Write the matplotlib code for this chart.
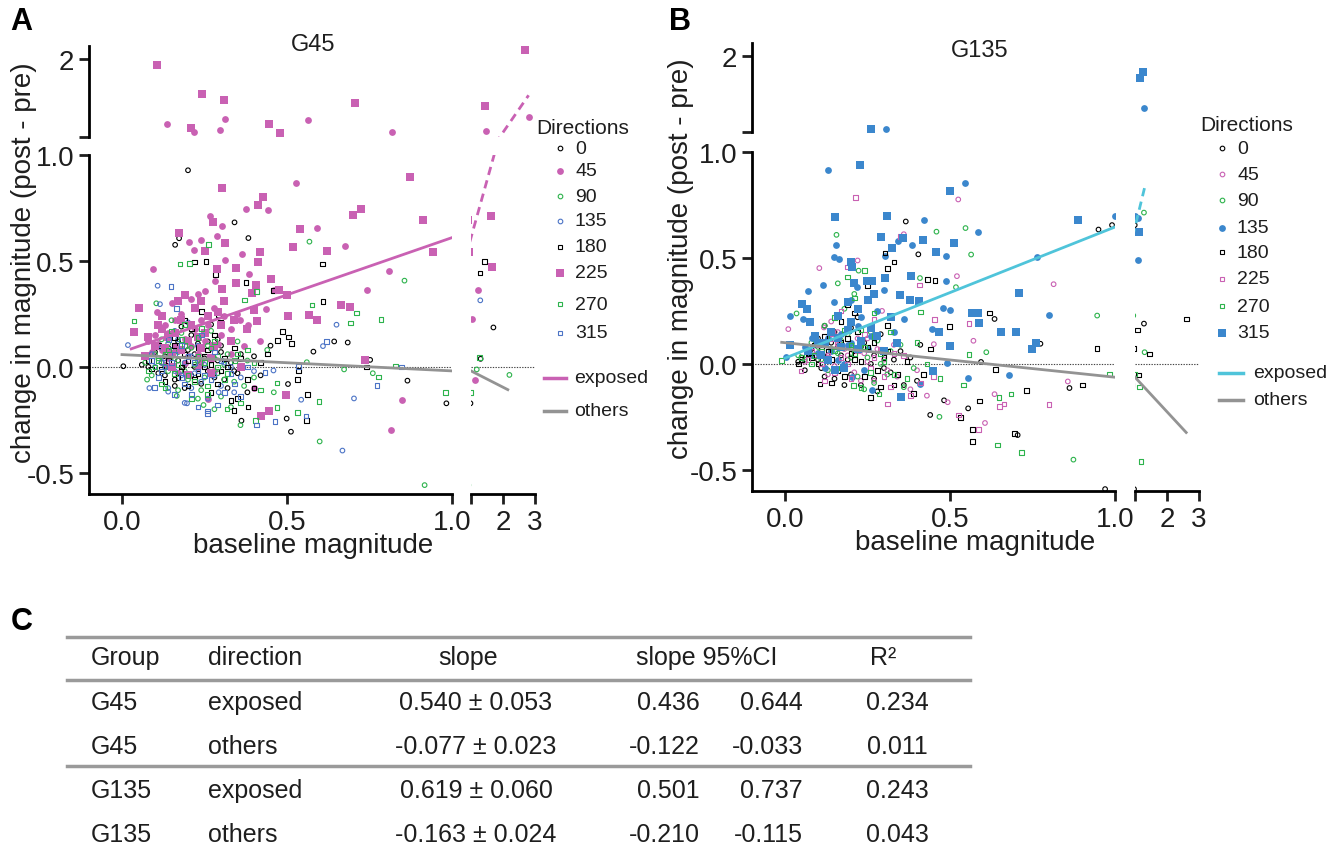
import numpy as np
import matplotlib.pyplot as plt
from matplotlib.lines import Line2D

plt.rcParams['font.family'] = ['Liberation Sans', 'DejaVu Sans']

directions = ['0', '45', '90', '135', '180', '225', '270', '315']

# ---- G45 : (baseline magnitude, change in magnitude) per direction ----
g45_d0 = [(0.20, 0.928), (0.341, 0.682), (0.383, 0.608), (0.173, 0.607), (0.161, 0.576), (0.58, 0.072),
          (0.643, 0.12), (0.684, 0.115), (0.865, -0.065), (0.983, -0.172), (0.512, -0.306), (0.362, -0.254),
          (0.499, -0.244), (0.004, 0.003), (0.752, 0.033), (1.70, 0.186), (1.30, 0.038), (0.503, -0.081),
          (0.12, 0.02), (0.15, 0.05), (0.18, -0.02), (0.2, 0.08), (0.22, 0.0), (0.25, 0.04), (0.28, -0.05),
          (0.3, 0.1), (0.17, 0.12), (0.13, -0.04), (0.24, -0.08), (0.33, 0.02), (0.36, 0.06), (0.1, 0.07),
          (0.21, 0.15), (0.27, 0.2), (0.19, -0.1), (0.32, -0.1), (0.4, 0.05), (0.08, 0.0), (0.23, 0.11),
          (0.16, -0.06), (0.29, 0.13), (0.35, -0.03), (0.14, 0.09),
          (0.06, 0.01), (0.11, -0.03), (0.14, 0.0), (0.17, 0.03), (0.19, 0.01), (0.21, -0.04), (0.24, 0.02),
          (0.26, -0.02), (0.29, 0.03), (0.31, -0.06), (0.34, -0.02), (0.38, -0.12), (0.13, 0.05),
          (0.16, -0.09), (0.22, 0.06), (0.26, 0.12), (0.18, 0.19), (0.3, 0.07), (0.42, -0.04), (0.45, 0.1)]
g45_d45 = [(0.093, 0.462), (0.304, 0.667), (0.526, 0.866), (0.375, 0.747), (0.443, 0.739), (0.59, 0.656),
           (0.675, 0.572), (0.266, 0.71), (0.288, 0.62), (0.203, 0.588), (0.24, 0.598), (0.219, 0.55),
           (0.364, 0.533), (0.313, 0.503), (0.808, 0.452), (0.743, 0.362), (1.21, 0.364), (1.04, 0.225),
           (1.13, -0.06), (0.815, -0.297), (0.85, -0.156), (0.386, 0.436), (0.25, 0.359), (0.283, 0.407),
           (0.229, 0.344), (0.436, 0.275), (0.462, 0.361), (0.382, 0.198), (0.359, 0.223), (0.591, 0.223),
           (0.106, 0.261), (0.418, 0.12), (0.136, 1.25), (0.311, 1.31), (0.218, 1.16), (0.297, 1.18),
           (0.564, 1.29), (0.817, 1.15), (1.46, 1.17), (2.80, 1.33),
           (0.1, 0.15), (0.13, 0.2), (0.16, 0.1), (0.18, 0.25), (0.2, 0.05), (0.22, 0.18), (0.25, 0.12),
           (0.28, 0.28), (0.12, 0.08), (0.15, 0.3), (0.19, 0.02), (0.24, 0.22), (0.3, 0.15), (0.33, 0.06),
           (0.08, 0.12), (0.17, -0.03), (0.27, 0.09), (0.21, 0.32), (0.35, 0.25), (0.14, 0.04),
           (0.26, -0.15), (0.4, -0.1), (0.23, 0.0),
           (0.09, 0.07), (0.11, 0.11), (0.14, 0.16), (0.17, 0.08), (0.19, 0.13), (0.21, 0.1), (0.23, 0.06),
           (0.26, 0.2), (0.29, 0.11), (0.31, 0.24), (0.16, 0.22), (0.13, 0.01), (0.24, 0.03), (0.28, -0.02),
           (0.33, 0.18), (0.37, 0.1)]
g45_d90 = [(0.568, 0.591), (0.856, 0.407), (0.917, -0.558), (0.599, -0.352), (0.359, -0.275), (0.76, -0.03),
           (0.673, -0.012), (1.18, -0.012), (2.2, -0.038), (0.104, 0.30), (0.076, -0.06), (0.166, -0.137),
           (0.247, -0.18), (0.56, 0.022),
           (0.11, 0.04), (0.14, -0.02), (0.17, 0.07), (0.2, -0.06), (0.23, 0.03), (0.26, 0.1), (0.29, -0.03),
           (0.32, 0.06), (0.18, 0.16), (0.15, 0.22), (0.24, -0.11), (0.35, 0.12), (0.21, 0.09), (0.12, 0.13),
           (0.3, -0.14), (0.4, -0.05), (0.44, 0.08), (0.27, 0.17), (0.09, -0.04), (0.37, -0.09),
           (0.07, 0.02), (0.1, 0.06), (0.13, 0.0), (0.16, 0.04), (0.19, -0.02), (0.22, 0.01), (0.25, -0.05),
           (0.28, 0.04), (0.31, 0.01), (0.34, -0.07), (0.2, 0.12), (0.17, -0.11), (0.23, -0.15),
           (0.28, -0.2), (0.33, -0.19), (0.14, 0.11), (0.38, 0.03), (0.46, -0.12)]
g45_d135 = [(0.108, 0.383), (0.083, -0.1), (0.14, -0.117), (0.65, 0.199), (0.609, 0.098), (0.668, -0.395),
            (0.703, -0.149), (0.459, -0.017), (0.018, 0.103), (0.115, 0.296), (0.293, -0.12), (0.197, -0.172),
            (1.29, 0.314), (0.543, -0.155),
            (0.12, 0.02), (0.15, 0.08), (0.18, -0.04), (0.21, 0.05), (0.24, -0.07), (0.27, 0.03), (0.3, -0.09),
            (0.17, 0.13), (0.14, -0.1), (0.33, 0.0), (0.23, 0.1), (0.09, 0.06), (0.26, -0.15), (0.36, -0.05),
            (0.2, 0.21),
            (0.1, 0.0), (0.13, 0.04), (0.16, -0.02), (0.19, 0.02), (0.22, -0.03), (0.25, 0.01), (0.28, -0.04),
            (0.31, 0.02), (0.21, -0.1), (0.16, 0.17), (0.34, -0.12), (0.19, -0.17), (0.12, 0.09), (0.4, -0.02)]
g45_d180 = [(0.608, 0.486), (0.609, 0.309), (1.28, 0.443), (1.43, 0.498), (0.562, -0.129), (0.56, -0.253),
            (0.339, -0.206), (0.74, 0.0), (0.487, 0.167), (0.505, 0.141), (0.514, 0.11), (0.471, 0.124),
            (0.531, -0.06), (0.535, -0.017), (0.382, -0.189), (0.298, 0.211), (0.293, 0.244), (0.255, 0.498),
            (0.22, 0.495), (0.283, 0.435), (0.376, 0.399), (0.46, 0.36),
            (0.14, 0.03), (0.19, 0.06), (0.23, -0.03), (0.26, 0.08), (0.3, -0.02), (0.21, 0.18), (0.17, -0.05),
            (0.34, 0.09), (0.27, -0.12), (0.11, 0.1), (0.38, -0.06), (0.24, 0.26), (0.2, -0.09), (0.31, 0.04),
            (0.16, 0.14), (0.42, 0.02), (0.09, -0.01), (0.28, 0.15), (0.35, -0.15), (0.25, 0.0),
            (0.08, 0.03), (0.12, -0.01), (0.15, 0.07), (0.18, 0.0), (0.2, 0.03), (0.22, -0.06), (0.25, 0.05),
            (0.27, 0.01), (0.29, -0.08), (0.32, 0.0), (0.36, 0.04), (0.4, -0.1), (0.13, -0.07), (0.23, 0.09),
            (0.19, 0.22), (0.33, -0.16), (0.44, 0.06), (0.16, 0.1)]
g45_d225 = [(0.106, 1.93), (0.243, 1.60), (0.31, 1.53), (0.21, 1.20), (0.445, 1.25), (0.478, 1.14),
            (0.707, 1.49), (1.43, 1.46), (2.68, 2.11),
            (0.304, 0.845), (0.428, 0.80), (0.413, 0.765), (0.275, 0.686), (0.173, 0.634), (0.54, 0.651),
            (0.313, 0.586), (0.252, 0.548), (0.419, 0.541), (0.517, 0.565), (0.413, 0.497), (0.344, 0.467),
            (0.45, 0.416), (0.289, 0.46), (0.346, 0.397), (0.405, 0.387), (0.303, 0.366), (0.475, 0.364),
            (0.395, 0.347), (0.5, 0.34), (0.622, 0.548), (0.70, 0.718), (0.724, 0.746), (0.873, 0.897),
            (0.912, 0.694), (0.943, 0.54), (0.664, 0.292), (0.69, 0.283), (0.567, 0.246), (0.503, 0.239),
            (0.592, 0.22), (0.735, 0.033), (0.051, 0.278), (0.036, 0.165), (0.41, 0.217), (0.446, -0.206),
            (0.42, -0.232), (0.497, -0.132), (1.62, 0.711), (1.66, 0.47),
            (0.1, 0.1), (0.12, 0.18), (0.15, 0.06), (0.18, 0.22), (0.2, 0.12), (0.22, 0.28), (0.25, 0.16),
            (0.27, 0.04), (0.3, 0.2), (0.14, 0.14), (0.17, 0.31), (0.33, 0.12), (0.38, 0.18), (0.24, 0.09),
            (0.07, 0.05), (0.2, -0.04), (0.36, 0.0), (0.29, 0.26),
            (0.08, 0.14), (0.11, 0.2), (0.13, 0.09), (0.16, 0.16), (0.18, 0.08), (0.21, 0.2), (0.23, 0.14),
            (0.26, 0.24), (0.28, 0.1), (0.31, 0.31), (0.12, 0.24), (0.19, 0.34), (0.24, 0.31), (0.34, 0.22),
            (0.15, 0.0), (0.27, -0.03), (0.4, 0.27)]
g45_d270 = [(0.262, 0.577), (0.176, 0.485), (0.204, 0.488), (0.408, 0.357), (0.371, 0.316), (0.576, 0.292),
            (0.71, 0.254), (0.693, 0.208), (0.785, 0.223), (0.828, 0.005), (0.98, -0.12), (0.778, -0.048),
            (0.597, -0.162), (0.531, -0.216), (0.404, -0.253), (1.26, 0.043), (0.036, 0.216), (0.318, -0.198),
            (0.47, -0.192), (0.47, -0.077),
            (0.13, 0.06), (0.16, -0.03), (0.19, 0.1), (0.22, -0.07), (0.25, 0.02), (0.28, 0.12), (0.31, -0.06),
            (0.34, 0.03), (0.19, 0.2), (0.12, -0.08), (0.26, -0.13), (0.38, 0.08), (0.23, 0.14), (0.15, 0.17),
            (0.42, -0.11), (0.29, 0.05), (0.1, 0.0), (0.36, -0.17),
            (0.08, -0.02), (0.11, 0.03), (0.14, 0.08), (0.17, 0.01), (0.2, -0.04), (0.23, 0.05), (0.26, -0.09),
            (0.29, 0.0), (0.32, -0.03), (0.35, 0.06), (0.18, 0.13), (0.21, -0.15), (0.27, 0.09), (0.4, 0.02),
            (0.13, -0.1), (0.24, 0.18)]
g45_d315 = [(0.148, 0.378), (0.098, -0.098), (0.259, -0.208), (0.408, -0.275), (0.464, -0.259),
            (0.557, -0.232), (0.433, -0.026), (0.535, 0.003), (0.847, 0.0), (0.773, -0.089), (0.166, 0.275),
            (0.62, 0.12),
            (0.13, 0.0), (0.16, 0.06), (0.19, -0.08), (0.22, 0.02), (0.25, -0.04), (0.28, 0.07), (0.31, -0.12),
            (0.18, 0.1), (0.11, -0.05), (0.34, -0.08), (0.24, 0.15), (0.29, -0.18), (0.38, 0.0), (0.21, -0.13),
            (0.09, 0.03), (0.12, -0.02), (0.15, 0.02), (0.18, -0.05), (0.2, 0.05), (0.23, -0.02), (0.27, -0.06),
            (0.3, 0.03), (0.33, -0.03), (0.16, -0.13), (0.26, -0.22), (0.23, -0.19), (0.14, 0.13),
            (0.36, -0.14)]

# ---- G135 ----
g135_d0 = [(0.366, 0.672), (0.404, 0.517), (0.95, 0.634), (0.991, 0.655), (0.635, 0.212), (0.774, 0.095),
           (1.28, 0.19), (0.862, -0.114), (0.555, -0.21), (0.705, -0.336), (0.44, -0.241), (0.97, -0.591),
           (0.41, 0.09), (0.482, -0.172), (0.594, 0.009),
           (0.05, 0.03), (0.08, 0.07), (0.11, -0.02), (0.14, 0.1), (0.17, 0.04), (0.2, -0.05), (0.23, 0.08),
           (0.26, 0.0), (0.29, 0.14), (0.12, 0.18), (0.18, -0.1), (0.32, -0.04), (0.35, 0.06), (0.22, 0.22),
           (0.15, -0.07), (0.28, -0.13), (0.4, -0.08), (0.1, 0.12), (0.25, 0.3), (0.06, -0.03),
           (0.04, 0.01), (0.07, 0.05), (0.1, 0.02), (0.13, 0.04), (0.16, 0.08), (0.19, 0.02), (0.21, 0.06),
           (0.24, 0.1), (0.27, 0.04), (0.3, -0.02), (0.33, 0.02), (0.36, -0.1), (0.15, 0.15), (0.2, 0.17),
           (0.27, -0.07), (0.38, 0.03), (0.23, -0.1), (0.12, -0.06)]
g135_d45 = [(0.525, 0.776), (0.36, 0.612), (0.22, 0.488), (0.104, 0.452), (0.814, 0.376), (0.521, 0.414),
            (0.571, 0.109), (0.451, 0.093), (0.857, -0.083), (0.635, -0.143), (0.606, -0.279), (0.493, -0.181),
            (0.01, 0.164), (0.118, 0.172), (0.294, 0.25),
            (0.09, 0.04), (0.12, 0.09), (0.15, -0.01), (0.18, 0.07), (0.21, -0.04), (0.24, 0.05), (0.27, -0.08),
            (0.3, 0.02), (0.16, 0.15), (0.2, 0.2), (0.34, -0.06), (0.38, -0.12), (0.25, 0.12), (0.13, -0.05),
            (0.06, 0.01), (0.1, 0.05), (0.13, 0.03), (0.16, 0.09), (0.19, 0.04), (0.22, 0.12), (0.25, 0.01),
            (0.28, 0.07), (0.31, -0.03), (0.14, 0.2), (0.23, -0.08), (0.33, 0.09), (0.4, -0.03), (0.43, -0.15)]
g135_d90 = [(0.156, 0.609), (0.459, 0.624), (0.547, 0.641), (0.564, 0.516), (1.28, 0.714), (0.946, 0.228),
            (0.874, -0.452), (0.518, 0.362), (0.409, 0.405), (0.223, 0.44), (1.30, 0.055), (0.035, 0.238),
            (0.468, -0.25), (0.61, 0.055),
            (0.06, 0.02), (0.1, 0.08), (0.13, -0.03), (0.16, 0.05), (0.19, 0.14), (0.22, -0.06), (0.25, 0.03),
            (0.28, 0.11), (0.31, -0.05), (0.18, 0.26), (0.35, 0.09), (0.24, -0.12), (0.12, 0.18), (0.39, -0.02),
            (0.04, 0.04), (0.08, 0.1), (0.11, 0.02), (0.14, 0.07), (0.17, 0.11), (0.2, 0.03), (0.23, 0.09),
            (0.26, 0.15), (0.29, 0.0), (0.32, 0.06), (0.21, 0.33), (0.16, 0.38), (0.27, -0.09), (0.36, -0.11)]
g135_d135 = [(0.13, 0.914), (0.545, 0.852), (0.42, 0.679), (0.585, 0.624), (0.341, 0.578), (0.385, 0.56),
             (0.487, 0.507), (0.488, 0.39), (0.156, 0.56), (0.147, 0.503), (0.165, 0.497), (0.303, 0.509),
             (0.80, 0.233), (0.764, 0.503), (0.68, -0.052), (0.479, 0.262), (0.5, 0.253), (0.445, 0.166),
             (0.492, 0.003), (0.554, -0.069), (1.08, 0.491), (1.0, 0.698), (1.08, 0.688), (0.071, 0.345),
             (0.114, 0.374), (0.219, 0.362), (0.147, 0.293), (0.016, 0.224), (0.055, 0.21), (0.081, 0.121),
             (0.003, 0.034), (0.41, -0.095), (0.265, -0.121), (0.203, -0.064), (0.307, 1.135), (1.28, 1.39),
             (0.1, 0.05), (0.13, 0.12), (0.16, 0.02), (0.19, 0.09), (0.22, 0.18), (0.25, 0.07), (0.28, 0.25),
             (0.12, -0.02), (0.2, 0.3), (0.33, 0.15), (0.06, 0.08), (0.24, -0.03),
             (0.08, 0.04), (0.11, 0.1), (0.14, 0.06), (0.17, 0.14), (0.2, 0.1), (0.23, 0.22), (0.26, 0.13),
             (0.3, 0.35), (0.18, 0.0), (0.36, 0.21)]
g135_d180 = [(0.303, 0.524), (0.432, 0.397), (0.455, 0.393), (0.619, 0.241), (0.499, 0.176), (0.945, 0.072),
             (1.08, 0.16), (2.61, 0.212), (1.46, 0.047), (1.11, -0.052), (0.902, -0.1), (0.732, -0.126),
             (0.589, -0.176), (0.531, -0.253), (0.568, -0.31), (0.568, -0.367), (0.696, -0.329),
             (0.638, -0.026), (0.106, -0.095), (0.31, 0.45), (0.33, 0.48),
             (0.07, 0.05), (0.1, 0.0), (0.13, 0.06), (0.16, -0.03), (0.19, 0.12), (0.21, 0.02), (0.24, -0.06),
             (0.27, 0.1), (0.3, 0.03), (0.17, 0.2), (0.14, -0.09), (0.33, -0.1), (0.37, 0.01), (0.22, 0.15),
             (0.09, 0.09), (0.26, -0.16), (0.42, -0.05), (0.19, 0.28), (0.31, 0.18), (0.04, 0.0),
             (0.05, 0.02), (0.08, 0.03), (0.11, 0.07), (0.14, 0.02), (0.17, 0.1), (0.2, 0.05), (0.23, 0.01),
             (0.25, 0.08), (0.28, -0.03), (0.31, 0.06), (0.34, -0.05), (0.12, 0.13), (0.21, 0.24),
             (0.18, -0.06), (0.29, -0.11), (0.39, -0.14), (0.44, 0.07), (0.25, 0.37)]
g135_d225 = [(0.213, 0.784), (0.189, 0.457), (0.408, 0.372), (0.558, 0.19), (0.453, 0.21), (0.664, -0.19),
             (0.65, -0.202), (0.80, -0.193), (0.586, -0.31), (0.525, -0.241), (0.311, -0.19), (0.049, -0.034),
             (0.35, 0.6),
             (0.08, 0.06), (0.11, 0.0), (0.14, 0.12), (0.17, 0.03), (0.2, -0.07), (0.23, 0.1), (0.26, -0.02),
             (0.29, 0.07), (0.32, -0.11), (0.19, 0.17), (0.36, 0.04), (0.41, -0.09), (0.27, 0.21), (0.15, -0.04),
             (0.07, 0.02), (0.1, 0.09), (0.13, 0.04), (0.16, 0.1), (0.19, 0.0), (0.22, 0.06), (0.24, 0.14),
             (0.27, 0.03), (0.3, -0.06), (0.17, 0.25), (0.33, 0.05), (0.38, -0.15), (0.45, -0.06), (0.12, -0.08)]
g135_d270 = [(0.983, -0.048), (0.717, -0.419), (0.644, -0.383), (1.19, -0.46), (1.14, -0.109), (0.41, 0.245),
             (0.648, -0.159), (0.685, -0.143), (0.558, 0.043), (0.541, -0.1), (-0.01, 0.017), (0.207, -0.103),
             (0.23, -0.112), (0.285, -0.143),
             (0.08, 0.0), (0.11, 0.06), (0.14, 0.13), (0.17, -0.02), (0.2, 0.09), (0.23, 0.16), (0.26, -0.04),
             (0.29, 0.05), (0.32, 0.15), (0.15, 0.22), (0.37, -0.07), (0.43, 0.0), (0.21, 0.31), (0.27, 0.24),
             (0.05, 0.03), (0.09, 0.04), (0.12, 0.1), (0.15, 0.06), (0.18, 0.16), (0.21, 0.05), (0.24, 0.08),
             (0.27, 0.13), (0.3, 0.01), (0.33, -0.05), (0.19, 0.41), (0.24, 0.44), (0.4, 0.1), (0.47, -0.07)]
g135_d315 = [(0.228, 0.94), (0.499, 0.816), (0.151, 0.693), (0.31, 0.697), (0.29, 0.6), (0.325, 0.545),
             (0.358, 0.593), (0.419, 0.583), (0.459, 0.528), (0.513, 0.571), (0.2, 0.483), (0.203, 0.457),
             (0.249, 0.393), (0.265, 0.391), (0.302, 0.403), (0.381, 0.417), (0.405, 0.298), (0.349, 0.324),
             (0.71, 0.336), (0.888, 0.678), (0.566, 0.238), (0.585, 0.238), (0.588, 0.195), (0.656, 0.152),
             (0.7, 0.15), (0.762, 0.1), (0.747, 0.072), (0.499, 0.083), (0.466, 0.152), (0.052, 0.281),
             (0.067, 0.259), (0.077, 0.197), (1.12, 0.624), (0.447, -0.034), (0.35, -0.155), (0.016, 0.09),
             (0.121, 0.098), (0.19, 0.293), (0.16, 0.224), (0.26, 1.13), (1.16, 1.745), (1.24, 1.82),
             (0.11, 0.04), (0.14, 0.15), (0.17, 0.08), (0.2, 0.2), (0.23, 0.11), (0.26, 0.17), (0.09, 0.13),
             (0.3, 0.06), (0.18, -0.02), (0.27, 0.33), (0.22, 0.26), (0.34, 0.1),
             (0.07, 0.06), (0.1, 0.1), (0.13, 0.02), (0.16, 0.12), (0.19, 0.16), (0.22, 0.07), (0.25, 0.3),
             (0.28, 0.13), (0.21, 0.38), (0.32, 0.22), (0.15, -0.03), (0.38, 0.3)]

# regression fits: slope from table C, intercept / x extent
fit_labels = ['exposed', 'others']
g45_fit_intercept = [0.07, 0.058]
g45_fit_xrange = [(0.028, 2.8), (0.0, 2.15)]
g135_fit_intercept = [0.027, 0.10]
g135_fit_xrange = [(0.0, 1.3), (-0.01, 2.6)]

# table C
tbl_group = ['G45', 'G45', 'G135', 'G135']
tbl_dir = ['exposed', 'others', 'exposed', 'others']
tbl_slope = [0.540, -0.077, 0.619, -0.163]
tbl_se = [0.053, 0.023, 0.060, 0.024]
tbl_lo = [0.436, -0.122, 0.501, -0.210]
tbl_hi = [0.644, -0.033, 0.737, -0.115]
tbl_r2 = [0.234, 0.011, 0.243, 0.043]

PINK = '#C961B3'
GREEN = '#2DB34C'
BLUE = '#4C74C6'
BLUE2 = '#3B87CD'
CYAN = '#4FC4DA'
GREY = '#939393'
TXT = '#1e1e1e'

W, H = 1339, 854
fig = plt.figure(figsize=(W / 100, H / 100), dpi=100)


def rect(x0, x1, y0, y1):
    return [x0 / W, 1 - y1 / H, (x1 - x0) / W, (y1 - y0) / H]


def fx(x):
    return x / W


def fy(y):
    return 1 - y / H


small = dict(s=11, lw=0.8)
big_c = dict(s=24, lw=0)
big_s = dict(s=28, lw=0)

# marker, colour, filled, size-kwargs
styles_a = [('o', 'black', False, small), ('o', PINK, True, big_c), ('o', GREEN, False, small),
            ('o', BLUE, False, small), ('s', 'black', False, small), ('s', PINK, True, big_s),
            ('s', GREEN, False, small), ('s', BLUE, False, small)]
styles_b = [('o', 'black', False, small), ('o', PINK, False, small), ('o', GREEN, False, small),
            ('o', BLUE2, True, big_c), ('s', 'black', False, small), ('s', PINK, False, small),
            ('s', GREEN, False, small), ('s', BLUE2, True, big_s)]


def panel(series, styles, slopes, icpts, xr, exp_color, px, title, title_xy, xlab_xy, ylab_xy,
          leg):
    L, M, R0, R1, UT, UB, LT, LB = px
    ll = fig.add_axes(rect(L, M, LT, LB))
    lr = fig.add_axes(rect(R0, R1, LT, LB))
    ul = fig.add_axes(rect(L, M, UT, UB))
    ur = fig.add_axes(rect(R0, R1, UT, UB))
    for ax in (ll, lr, ul, ur):
        ax.patch.set_alpha(0)
        for s in ax.spines.values():
            s.set_visible(False)
            s.set_linewidth(2)
        ax.tick_params(direction='out', length=7, width=2, labelsize=20, colors=TXT)
    for ax in (ll, ul):
        ax.set_xlim(-0.1, 1.0)
    for ax in (lr, ur):
        ax.set_xlim(1.0, 3.0)
    for ax in (ll, lr):
        ax.set_ylim(-0.6, 1.0)
    for ax in (ul, ur):
        ax.set_ylim(1.1, 2.16)
    ll.spines['left'].set_visible(True)
    ll.spines['bottom'].set_visible(True)
    ul.spines['left'].set_visible(True)
    lr.spines['bottom'].set_visible(True)
    ll.set_xticks([0, 0.5, 1.0], ['0.0', '0.5', '1.0'])
    ll.set_yticks([-0.5, 0, 0.5, 1.0], ['-0.5', '0.0', '0.5', '1.0'])
    lr.set_xticks([1, 2, 3], ['', '2', '3'])
    lr.set_yticks([])
    ul.set_xticks([])
    ul.set_yticks([1.1, 2], ['', '2'])
    ur.set_xticks([])
    ur.set_yticks([])

    for ax in (ll, lr):
        ax.axhline(0, color='#444444', lw=0.8, ls=(0, (1.2, 1.2)), zorder=1)

    for pts, (mk, col, filled, kw) in zip(series, styles):
        xs = [p[0] for p in pts]
        ys = [p[1] for p in pts]
        for ax in (ll, lr, ul, ur):
            if filled:
                ax.scatter(xs, ys, marker=mk, s=kw['s'], c=col, linewidths=0, zorder=3)
            else:
                ax.scatter(xs, ys, marker=mk, s=kw['s'], facecolors='none', edgecolors=col,
                           linewidths=kw['lw'], zorder=3)

    cols = [exp_color, GREY]
    for k in range(2):
        xs = np.array(xr[k])
        ys = icpts[k] + slopes[k] * xs
        for ax in (ll, ul):
            ax.plot(xs, ys, color=cols[k], lw=2, zorder=4)
        for ax in (lr, ur):
            ax.plot(xs, ys, color=cols[k], lw=2, zorder=4, ls=(0, (3, 2)) if k == 0 else '-')

    fig.text(fx(title_xy[0]), fy(title_xy[1]), title, ha='center', va='center', fontsize=17, color=TXT)
    fig.text(fx(xlab_xy[0]), fy(xlab_xy[1]), 'baseline magnitude', ha='center', va='center',
             fontsize=20, color=TXT)
    fig.text(fx(ylab_xy[0]), fy(ylab_xy[1]), 'change in magnitude (post - pre)', ha='center',
             va='center', rotation=90, fontsize=20, color=TXT)

    # legend
    tx, ty, mx, lx, rows, lx0, lx1, ltx, lrows = leg
    fig.text(fx(tx), fy(ty), 'Directions', ha='left', va='center', fontsize=15, color=TXT)
    for lab, (mk, col, filled, kw), yy in zip(directions, styles, rows):
        ms = np.sqrt(kw['s'])
        fig.add_artist(Line2D([fx(mx)], [fy(yy)], transform=fig.transFigure, ls='none', marker=mk,
                              markersize=ms, markerfacecolor=col if filled else 'none',
                              markeredgecolor=col, markeredgewidth=0 if filled else 0.8))
        fig.text(fx(lx), fy(yy), lab, ha='left', va='center', fontsize=14, color=TXT)
    for k in range(2):
        fig.add_artist(Line2D([fx(lx0), fx(lx1)], [fy(lrows[k])] * 2, transform=fig.transFigure,
                              color=cols[k], lw=2.5))
        fig.text(fx(ltx), fy(lrows[k]), fit_labels[k], ha='left', va='center', fontsize=14, color=TXT)


panel([g45_d0, g45_d45, g45_d90, g45_d135, g45_d180, g45_d225, g45_d270, g45_d315], styles_a,
      tbl_slope[0:2], g45_fit_intercept, g45_fit_xrange, PINK,
      (89, 452, 471, 535, 46.6, 137.7, 156, 495), 'G45', (313, 45), (313, 546), (24, 263),
      (536, 129, 560, 575, [149, 172, 197, 222, 248, 274, 305, 334], 544, 566, 574, [379, 412]))
panel([g135_d0, g135_d45, g135_d90, g135_d135, g135_d180, g135_d225, g135_d270, g135_d315], styles_b,
      tbl_slope[2:4], g135_fit_intercept, g135_fit_xrange, CYAN,
      (752, 1115, 1135, 1199, 44, 133, 153, 492), 'G135', (980, 51), (975, 543), (681, 259),
      (1200, 126, 1222, 1237, [149, 175, 201, 229, 253, 280, 307, 334], 1219, 1243, 1253, [374, 401]))

# panel letters
for lab, (x, y) in zip(['A', 'B', 'C'], [(21, 22), (680, 22), (22, 622)]):
    fig.text(fx(x), fy(y), lab, ha='center', va='center', fontsize=22, fontweight='bold', color='black')

# table C
for y in [638, 681, 767]:
    fig.add_artist(Line2D([fx(67), fx(970)], [fy(y)] * 2, transform=fig.transFigure, color='#9a9a9a', lw=2.5))
hdr = [('Group', 91, 'left'), ('direction', 208, 'left'), ('slope', 468, 'center'),
       ('slope 95%CI', 707, 'center'), ('R²', 883, 'center')]
for t, x, ha in hdr:
    fig.text(fx(x), fy(658), t, ha=ha, va='center', fontsize=18, color=TXT)
row_y = [703, 747, 791, 835]
for i in range(4):
    y = fy(row_y[i])
    fig.text(fx(91), y, tbl_group[i], ha='left', va='center', fontsize=18, color=TXT)
    fig.text(fx(208), y, tbl_dir[i], ha='left', va='center', fontsize=18, color=TXT)
    fig.text(fx(476), y, f'{tbl_slope[i]:.3f} ± {tbl_se[i]:.3f}', ha='center', va='center', fontsize=18, color=TXT)
    fig.text(fx(700), y, f'{tbl_lo[i]:.3f}', ha='right', va='center', fontsize=18, color=TXT)
    fig.text(fx(803), y, f'{tbl_hi[i]:.3f}', ha='right', va='center', fontsize=18, color=TXT)
    fig.text(fx(897), y, f'{tbl_r2[i]:.3f}', ha='center', va='center', fontsize=18, color=TXT)

fig.savefig('out.png', dpi=100)
